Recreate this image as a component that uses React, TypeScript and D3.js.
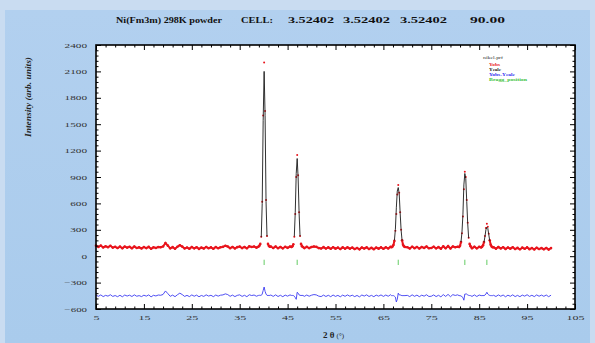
import React, { useRef, useEffect } from "react";
import * as d3 from "d3";

// 2theta (deg) sampling points, denser around the reflections
const twoTheta = [
  5, 5.5, 6, 6.5, 7, 7.5, 8, 8.5, 9, 9.5,
  10, 10.5, 11, 11.5, 12, 12.5, 13, 13.5, 14, 14.5,
  15, 15.5, 16, 16.5, 17, 17.5, 18, 18.5, 19, 19.5,
  20, 20.5, 21, 21.5, 22, 22.5, 23, 23.5, 24, 24.5,
  25, 25.5, 26, 26.5, 27, 27.5, 28, 28.5, 29, 29.5,
  30, 30.5, 31, 31.5, 32, 32.5, 33, 33.5, 34, 34.5,
  35, 35.5, 36, 36.5, 37, 37.5, 38, 38.5,
  38.9, 39.1, 39.3, 39.5, 39.7, 39.9, 40.1, 40.3, 40.5, 40.7, 40.9, 41.1, 41.3,
  41.5, 42, 42.5, 43, 43.5, 44, 44.5, 45, 45.5,
  45.8, 46, 46.2, 46.4, 46.6, 46.8, 47, 47.2, 47.4, 47.6, 47.8, 48, 48.2,
  48.5, 49, 49.5, 50, 50.5, 51, 51.5, 52, 52.5, 53,
  53.5, 54, 54.5, 55, 55.5, 56, 56.5, 57, 57.5, 58,
  58.5, 59, 59.5, 60, 60.5, 61, 61.5, 62, 62.5, 63,
  63.5, 64, 64.5, 65, 65.5, 66, 66.5,
  66.7, 66.9, 67.1, 67.3, 67.5, 67.7, 67.9, 68.1, 68.3, 68.5, 68.7, 68.9, 69.1, 69.3, 69.5,
  70, 70.5, 71, 71.5, 72, 72.5, 73, 73.5, 74, 74.5,
  75, 75.5, 76, 76.5, 77, 77.5, 78, 78.5, 79, 79.5,
  80, 80.5,
  80.8, 81, 81.2, 81.4, 81.6, 81.8, 82, 82.2, 82.4, 82.6, 82.8, 83, 83.2,
  83.5, 84, 84.5, 85,
  85.4, 85.6, 85.8, 86, 86.2, 86.4, 86.6, 86.8, 87, 87.2, 87.4, 87.6, 87.8,
  88, 88.5, 89, 89.5, 90, 90.5, 91, 91.5, 92, 92.5,
  93, 93.5, 94, 94.5, 95, 95.5, 96, 96.5, 97, 97.5,
  98, 98.5, 99, 99.5, 100,
];

const yObs = [
  120, 105, 120, 100, 113, 103, 118, 98, 107, 93,
  109, 91, 110, 98, 107, 91, 110, 93, 100, 88,
  104, 92, 106, 84, 101, 93, 104, 101, 110, 150,
  120, 89, 103, 85, 107, 125, 109, 88, 99, 85,
  104, 89, 102, 83, 98, 87, 105, 91, 100, 84,
  104, 91, 102, 106, 118, 110, 91, 105, 88, 103,
  109, 92, 105, 90, 112, 104, 110, 97,
  108, 118, 140, 220, 620, 1600, 2200, 1650, 640, 230, 140, 116, 108,
  110, 93, 111, 91, 105, 89, 107, 95, 110,
  104, 112, 135, 220, 480, 900, 1150, 920, 500, 230, 140, 114, 104,
  92, 106, 92, 104, 111, 106, 92, 87, 103, 87,
  100, 84, 102, 86, 97, 81, 100, 85, 101, 86,
  97, 81, 94, 78, 99, 87, 101, 82, 95, 80,
  98, 86, 101, 84, 101, 88, 106,
  102, 110, 128, 175, 290, 480, 700, 810, 720, 500, 300, 180, 130, 112, 104,
  102, 88, 108, 91, 105, 87, 105, 94, 110, 90,
  93, 108, 89, 104, 86, 112, 91, 114, 88, 111,
  102, 108,
  104, 118, 160, 260, 450, 760, 960, 900, 640, 380, 210, 140, 112,
  91, 107, 89, 106,
  100, 108, 125, 160, 230, 320, 370, 335, 255, 180, 130, 110, 102,
  101, 86, 104, 88, 102, 81, 99, 85, 102, 81,
  95, 79, 97, 84, 100, 80, 93, 77, 96, 81,
  93, 79, 94, 75, 92,
];

const yCalc = [
  112, 111, 110, 109, 108, 107, 106, 105, 104, 103,
  103, 102, 101, 101, 100, 99, 99, 98, 98, 97,
  97, 96, 96, 96, 95, 95, 95, 95, 95, 95,
  95, 95, 95, 95, 95, 95, 95, 95, 94, 94,
  94, 94, 94, 94, 94, 94, 94, 94, 94, 94,
  95, 95, 95, 96, 96, 96, 97, 97, 97, 98,
  98, 99, 99, 100, 100, 101, 101, 102,
  104, 112, 135, 215, 600, 1540, 2100, 1600, 620, 225, 136, 112, 104,
  101, 100, 100, 99, 99, 99, 99, 99, 100,
  100, 108, 132, 225, 500, 940, 1110, 890, 490, 225, 136, 110, 100,
  98, 97, 97, 97, 97, 96, 96, 96, 95, 95,
  94, 94, 93, 93, 92, 92, 92, 91, 91, 91,
  90, 90, 90, 90, 90, 90, 90, 90, 90, 90,
  90, 90, 91, 91, 92, 93, 94,
  100, 108, 126, 180, 305, 550, 740, 780, 710, 490, 295, 178, 128, 110, 102,
  97, 97, 97, 97, 97, 97, 98, 98, 98, 98,
  98, 98, 98, 98, 98, 98, 98, 98, 98, 98,
  98, 97,
  102, 116, 162, 270, 470, 810, 940, 880, 620, 370, 205, 137, 110,
  98, 97, 97, 97,
  98, 106, 122, 158, 222, 300, 330, 315, 245, 176, 128, 108, 100,
  95, 94, 94, 93, 93, 92, 92, 91, 91, 90,
  90, 89, 89, 88, 88, 87, 87, 86, 86, 86,
  85, 85, 85, 85, 85,
];

// Yobs - Ycalc, plotted with an offset
const yDiff = [
  -442, -456, -440, -459, -445, -454, -438, -457, -447, -460,
  -444, -461, -441, -453, -443, -458, -439, -455, -448, -459,
  -443, -454, -440, -462, -444, -452, -441, -444, -435, -395,
  -425, -456, -442, -460, -438, -420, -436, -457, -445, -459,
  -440, -455, -442, -461, -446, -457, -439, -453, -444, -460,
  -441, -454, -443, -440, -428, -436, -456, -442, -459, -445,
  -439, -457, -444, -460, -438, -447, -441, -455,
  -446, -444, -445, -445, -430, -390, -350, -400, -430, -445, -446, -446, -446,
  -441, -457, -439, -458, -444, -460, -442, -454, -440,
  -446, -446, -447, -455, -470, -490, -410, -420, -440, -445, -446, -446, -446,
  -456, -441, -455, -443, -436, -440, -454, -459, -442, -458,
  -444, -460, -441, -457, -445, -461, -442, -456, -440, -455,
  -443, -459, -446, -462, -441, -453, -439, -458, -445, -460,
  -442, -454, -440, -457, -441, -455, -438,
  -448, -448, -448, -455, -465, -520, -490, -420, -440, -440, -445, -448, -448, -448, -448,
  -445, -459, -439, -456, -442, -460, -443, -454, -438, -458,
  -455, -440, -459, -444, -462, -436, -457, -434, -460, -437,
  -446, -439,
  -448, -448, -452, -460, -470, -500, -430, -430, -430, -440, -445, -447, -448,
  -457, -440, -458, -441,
  -448, -448, -447, -448, -442, -430, -410, -430, -440, -446, -448, -448, -448,
  -444, -458, -440, -455, -441, -461, -443, -456, -439, -459,
  -445, -460, -442, -454, -438, -457, -444, -459, -440, -455,
  -442, -456, -441, -460, -443,
];

const braggPos = [40.1, 47.0, 68.1, 82.0, 86.6];

const xTicks = [5, 15, 25, 35, 45, 55, 65, 75, 85, 95, 105];
const yTicks = [-600, -300, 0, 300, 600, 900, 1200, 1500, 1800, 2100, 2400];

const legendItems = ["Yobs", "Ycalc", "Yobs-Ycalc", "Bragg_position"];
const legendColors = ["#e8141c", "#111", "#2b2bf0", "#3cbf3c"];
const legendWidths = [11, 12, 26, 38];

// title pieces: text, left x, width
const titleParts: [string, number, number][] = [
  ["Ni(Fm3m) 298K  powder", 116, 106],
  ["CELL:", 241, 32],
  ["3.52402", 288, 46],
  ["3.52402", 343, 47],
  ["3.52402", 400, 47],
  ["90.00", 470, 35],
];

const W = 595;
const H = 343;
const FONT = "'Liberation Serif', 'DejaVu Serif', serif";

const App = () => {
  const svgRef = useRef<SVGSVGElement>(null);

  useEffect(() => {
    const margin = { top: 45, right: 20, bottom: 34, left: 96 };
    const width = W - margin.left - margin.right;
    const height = H - margin.top - margin.bottom;

    const svg = d3.select(svgRef.current);
    svg.selectAll("*").remove();

    // backgrounds
    const defs = svg.append("defs");
    const grad = defs.append("linearGradient").attr("id", "panel").attr("x1", 0).attr("y1", 0).attr("x2", 0).attr("y2", 1);
    grad.append("stop").attr("offset", "0%").attr("stop-color", "#b2d0ef");
    grad.append("stop").attr("offset", "100%").attr("stop-color", "#a9cbec");
    svg.append("rect").attr("width", W).attr("height", H).attr("fill", "#c9dcf1");
    svg.append("rect").attr("x", 5).attr("y", 10).attr("width", 585).attr("height", H - 10).attr("fill", "url(#panel)");

    const x = d3.scaleLinear().domain([5, 105]).range([0, width]);
    const y = d3.scaleLinear().domain([-600, 2400]).range([height, 0]);

    const g = svg.append("g").attr("transform", `translate(${margin.left},${margin.top})`);
    g.append("rect").attr("width", width).attr("height", height).attr("fill", "#fff");

    const pts = twoTheta.map((t, i) => ({ t, obs: yObs[i], calc: yCalc[i], diff: yDiff[i] }));

    // observed points
    g.append("path")
      .datum(pts)
      .attr("fill", "none")
      .attr("stroke", "#e8141c")
      .attr("stroke-width", 2)
      .attr("d", d3.line<any>().defined(d => d.obs < 200).x(d => x(d.t)).y(d => y(d.obs)));
    g.append("g")
      .selectAll("circle")
      .data(pts)
      .join("circle")
      .attr("cx", d => x(d.t))
      .attr("cy", d => y(d.obs))
      .attr("r", d => (d.obs < 200 ? 1.3 : 1))
      .attr("fill", "#e8141c");

    // calculated profile
    g.append("path")
      .datum(pts)
      .attr("fill", "none")
      .attr("stroke", "#1a1a1a")
      .attr("stroke-width", 0.9)
      .attr("d", d3.line<any>().defined(d => d.calc > 150).x(d => x(d.t)).y(d => y(d.calc)));

    // difference
    g.append("path")
      .datum(pts)
      .attr("fill", "none")
      .attr("stroke", "#3b3bf2")
      .attr("stroke-width", 0.9)
      .attr("d", d3.line<any>().x(d => x(d.t)).y(d => y(d.diff)));

    // bragg positions
    g.append("g")
      .selectAll("line")
      .data(braggPos)
      .join("line")
      .attr("x1", d => x(d))
      .attr("x2", d => x(d))
      .attr("y1", y(-40))
      .attr("y2", y(-100))
      .attr("stroke", "#3cbf3c")
      .attr("stroke-width", 0.8);

    // axes, ticks pointing inward
    const xMinor = d3.range(5, 106, 2).filter(v => !xTicks.includes(v));
    const yMinor = d3.range(-600, 2401, 60).filter(v => !yTicks.includes(v));

    const styleAxis = (charW: number) => (sel: any) => {
      sel.select(".domain").remove();
      sel.selectAll("line").attr("stroke", "#000").attr("stroke-width", 1);
      sel.selectAll("text")
        .attr("font-family", FONT)
        .attr("font-size", 6.5)
        .attr("fill", "#333")
        .attr("textLength", function (this: any) { return (this.textContent || "").length * charW; })
        .attr("lengthAdjust", "spacingAndGlyphs");
    };

    g.append("g").attr("transform", `translate(0,${height})`)
      .call(d3.axisBottom(x).tickValues(xTicks).tickSize(-5).tickPadding(6).tickFormat(d3.format("d")))
      .call(styleAxis(6));
    g.append("g").attr("transform", `translate(0,${height})`)
      .call(d3.axisBottom(x).tickValues(xMinor).tickSize(-2.5).tickFormat(() => ""))
      .call(styleAxis(6));
    g.append("g")
      .call(d3.axisTop(x).tickValues(xTicks).tickSize(-5).tickFormat(() => ""))
      .call(styleAxis(6));
    g.append("g")
      .call(d3.axisTop(x).tickValues(xMinor).tickSize(-2.5).tickFormat(() => ""))
      .call(styleAxis(6));

    g.append("g")
      .call(d3.axisLeft(y).tickValues(yTicks).tickSize(-5).tickPadding(9).tickFormat(d3.format("d")))
      .call(styleAxis(5.6));
    g.append("g")
      .call(d3.axisLeft(y).tickValues(yMinor).tickSize(-2.5).tickFormat(() => ""))
      .call(styleAxis(5.6));
    g.append("g").attr("transform", `translate(${width},0)`)
      .call(d3.axisRight(y).tickValues(yTicks).tickSize(-5).tickFormat(() => ""))
      .call(styleAxis(5.6));
    g.append("g").attr("transform", `translate(${width},0)`)
      .call(d3.axisRight(y).tickValues(yMinor).tickSize(-2.5).tickFormat(() => ""))
      .call(styleAxis(5.6));

    g.append("rect").attr("width", width).attr("height", height)
      .attr("fill", "none").attr("stroke", "#000").attr("stroke-width", 1.6);

    // legend
    const leg = g.append("g").attr("font-family", FONT).attr("font-size", 5).attr("font-weight", "bold");
    leg.append("text").attr("x", 387).attr("y", 14).attr("fill", "#333").attr("font-weight", "normal")
      .attr("textLength", 20).attr("lengthAdjust", "spacingAndGlyphs").text("nikel.prf");
    leg.selectAll("text.item")
      .data(legendItems)
      .join("text")
      .attr("class", "item")
      .attr("x", 393)
      .attr("y", (d, i) => 20.5 + i * 5)
      .attr("fill", (d, i) => legendColors[i])
      .attr("textLength", (d, i) => legendWidths[i])
      .attr("lengthAdjust", "spacingAndGlyphs")
      .text(d => d);

    // title and axis labels
    svg.append("g")
      .selectAll("text")
      .data(titleParts)
      .join("text")
      .attr("x", d => d[1]).attr("y", 23)
      .attr("font-family", FONT).attr("font-size", 8.5).attr("font-weight", "bold").attr("fill", "#111")
      .attr("textLength", d => d[2]).attr("lengthAdjust", "spacingAndGlyphs")
      .text(d => d[0]);

    svg.append("text")
      .attr("transform", "translate(31,97) rotate(-90)")
      .attr("text-anchor", "middle")
      .attr("font-family", FONT).attr("font-size", 7.5).attr("font-weight", "bold").attr("font-style", "italic")
      .attr("fill", "#222")
      .attr("textLength", 80).attr("lengthAdjust", "spacingAndGlyphs")
      .text("Intensity (arb. units)");

    const xl = svg.append("text")
      .attr("x", margin.left + width / 2 - 2).attr("y", 338)
      .attr("text-anchor", "middle")
      .attr("font-family", FONT).attr("fill", "#222");
    xl.append("tspan").attr("font-size", 9).attr("font-weight", "bold").text("2 θ ");
    xl.append("tspan").attr("font-size", 7).text("(°)");
  }, []);

  return <svg ref={svgRef} width={W} height={H} style={{ position: "absolute", left: 0, top: 0 }} />;
};

export default App;
